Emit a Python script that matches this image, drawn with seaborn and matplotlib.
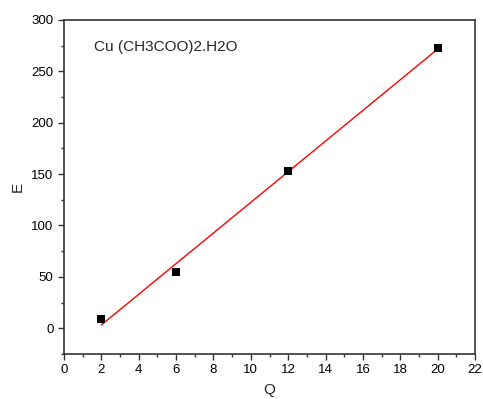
import matplotlib
matplotlib.use("Agg")
import matplotlib.pyplot as plt
import seaborn as sns
import pandas as pd
from matplotlib.ticker import MultipleLocator

sns.set_style("white")
plt.rcParams['font.family'] = ['Liberation Sans', 'DejaVu Sans']

Q = [2, 6, 12, 20]
E = [9, 55, 153, 273]
title_text = "Cu (CH3COO)2.H2O"

df = pd.DataFrame({"Q": Q, "E": E})

fig = plt.figure(figsize=(4.83, 3.99), dpi=100)
ax = fig.add_axes([0.1325, 0.113, 0.851, 0.837])

sns.regplot(data=df, x="Q", y="E", ax=ax, scatter=False, ci=None,
            line_kws=dict(color="red", lw=1.0))
sns.scatterplot(data=df, x="Q", y="E", ax=ax, marker="s", s=38,
                color="black", edgecolor="black", linewidth=0, zorder=3)

ax.set_xlim(0, 22)
ax.set_ylim(-25, 300)
ax.xaxis.set_major_locator(MultipleLocator(2))
ax.xaxis.set_minor_locator(MultipleLocator(1))
ax.yaxis.set_major_locator(MultipleLocator(50))
ax.yaxis.set_minor_locator(MultipleLocator(25))

for s in ax.spines.values():
    s.set_color("#333333")
    s.set_linewidth(1.2)

ax.tick_params(axis="both", which="major", direction="out", length=4, width=1,
               colors="#333333", labelsize=9.5, labelcolor="black",
               bottom=True, left=True, top=False, right=False)
ax.tick_params(axis="both", which="minor", direction="out", length=2.5, width=1,
               colors="#333333", bottom=True, left=True, top=False, right=False)

ax.set_xlabel("Q", fontsize=11, labelpad=5)
ax.set_ylabel("E", fontsize=11, labelpad=5)

ax.text(0.074, 0.918, title_text, transform=ax.transAxes, fontsize=11,
        va="center", ha="left")

fig.savefig("out.png", dpi=100)
